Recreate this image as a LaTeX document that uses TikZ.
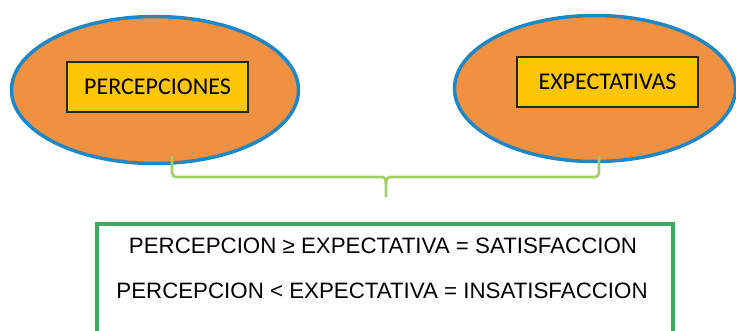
\documentclass[tikz,border=0pt]{standalone}
\usepackage{fontspec}
\setmainfont{Liberation Sans}
\newfontfamily\carlito{Carlito}
\usetikzlibrary{shapes.geometric}
\definecolor{orfill}{HTML}{EF9140}
\definecolor{blueline}{HTML}{1F87C6}
\definecolor{yelbox}{HTML}{FFC606}
\definecolor{brace}{HTML}{A2CE63}
\definecolor{gbox}{HTML}{3BAA5E}
\tikzset{
  oval/.style={ellipse, draw=blueline, fill=orfill, line width=3.5pt, inner sep=0pt},
  label box/.style={draw=black!85, fill=yelbox, line width=1.2pt, minimum width=181pt, minimum height=50pt, inner sep=0pt, font=\carlito\fontsize{24}{28}\selectfont},
  conn/.style={draw=brace, line width=2.6pt, rounded corners=4pt},
  eqline/.style={font=\fontsize{22.3}{26}\selectfont, inner sep=0pt}
}
\begin{document}
\begin{tikzpicture}[x=1pt,y=-1pt]
\useasboundingbox (0,0) rectangle (736,331);
\clip (0,0) rectangle (736,331);
\node[oval, minimum width=287pt, minimum height=147pt] (L) at (155,90) {};
\node[oval, minimum width=281pt, minimum height=146pt] (R) at (595,88.5) {};
\node[label box] (Lbox) at (157.5,87) {PERCEPCIONES};
\node[label box] (Rbox) at (607.5,82) {EXPECTATIVAS};
\coordinate (ls) at (172,156);
\coordinate (rs) at (599,156);
\coordinate (tip) at (386,197);
\draw[conn] (ls) -- (172,177) -- (379,177) [sharp corners] .. controls (384,177) and (386,179) .. (386,184) -- (tip);
\draw[conn] (rs) -- (599,177) -- (393,177) [sharp corners] .. controls (388,177) and (386,179) .. (386,184);
\draw[draw=gbox, line width=4pt] (97,345) -- (97,224) -- (673,224) -- (673,345);
\node[eqline] (eq1) at (383,246) {PERCEPCION ≥ EXPECTATIVA = SATISFACCION};
\node[eqline] (eq2) at (382,291) {PERCEPCION < EXPECTATIVA = INSATISFACCION};
\end{tikzpicture}
\end{document}
